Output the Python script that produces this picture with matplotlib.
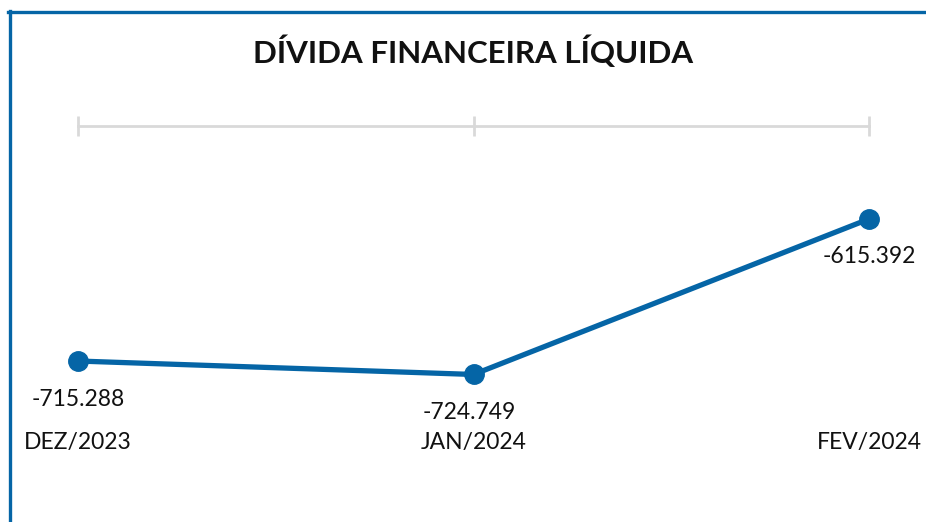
import matplotlib
matplotlib.use('Agg')
import matplotlib.pyplot as plt
from matplotlib.lines import Line2D

# data
months = ['DEZ/2023', 'JAN/2024', 'FEV/2024']
divida = [-715.288, -724.749, -615.392]
labels = ['-715.288', '-724.749', '-615.392']

blue = '#0565a6'
gray = '#d9d9d9'

plt.rcParams['font.family'] = ['Lato', 'DejaVu Sans']

fig = plt.figure(figsize=(9.26, 5.22), dpi=100)
W, H = 926, 522

# frame lines on left and top
fig.add_artist(Line2D([9.5 / W, 9.5 / W], [0, 1 - 11 / H], color=blue, lw=2.4))
fig.add_artist(Line2D([8 / W, 1], [1 - 12 / H, 1 - 12 / H], color=blue, lw=2.4))

fig.text(473 / W, 1 - 52 / H, 'DÍVIDA FINANCEIRA LÍQUIDA', ha='center', va='center',
         fontsize=22.5, fontweight='bold', color='#111111')

ax = fig.add_axes([78 / W, 1 - 460 / H, (869 - 78) / W, (460 - 126) / H])
x = list(range(len(months)))
ax.plot(x, divida, color=blue, lw=3.8, marker='o', markersize=14, clip_on=False, zorder=3)
ax.set_xlim(0, 2)
ax.set_ylim(-784.9, -550.0)

for s in ['left', 'right', 'bottom']:
    ax.spines[s].set_visible(False)
ax.spines['top'].set_color(gray)
ax.spines['top'].set_linewidth(2)
ax.set_yticks([])
ax.set_xticks(x)
ax.xaxis.set_ticks_position('top')
ax.tick_params(axis='x', direction='inout', length=14, width=2, color=gray, labeltop=False, labelbottom=False)

for i, v in enumerate(divida):
    ax.annotate(labels[i], (i, v), xytext=(-4 if i == 1 else 0, -38), textcoords='offset pixels',
                ha='center', va='center', fontsize=16.5, color='#111111')
    ax.annotate(months[i], (i, 0), xycoords=('data', 'figure pixels'), xytext=(0, 522 - 442),
                textcoords='offset pixels', ha='center', va='center', fontsize=16.5, color='#111111')

plt.savefig('out.png', dpi=100)
